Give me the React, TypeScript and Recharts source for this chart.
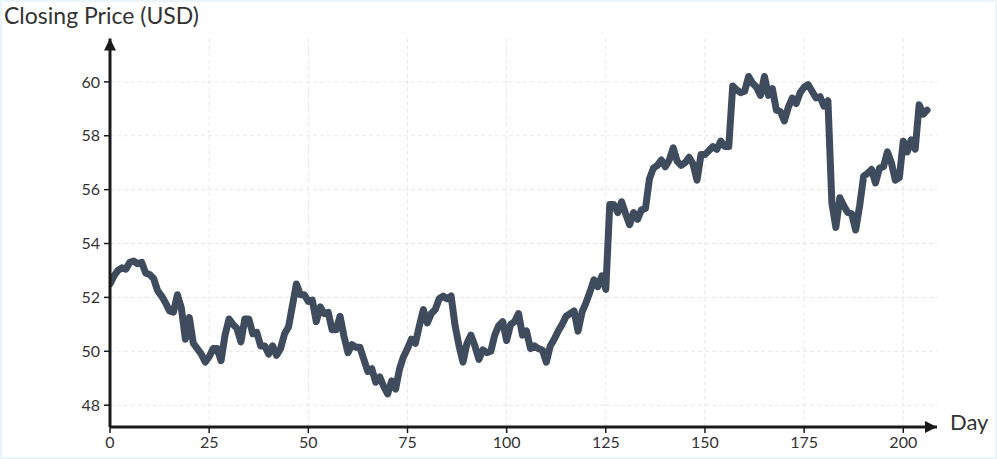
import React from 'react';
import { LineChart, Line, XAxis, YAxis, CartesianGrid } from 'recharts';

// closing prices, one per day starting at day 0
const prices = [
  52.5, 52.8, 53.0, 53.1, 53.05, 53.3, 53.35, 53.25, 53.3, 52.9,
  52.85, 52.7, 52.25, 52.05, 51.8, 51.5, 51.45, 52.1, 51.6, 50.45,
  51.25, 50.3, 50.1, 49.9, 49.6, 49.8, 50.1, 50.1, 49.65, 50.6,
  51.2, 51.0, 50.85, 50.35, 51.2, 51.2, 50.65, 50.7, 50.2, 50.2,
  49.9, 50.2, 49.85, 50.1, 50.65, 50.9, 51.7, 52.5, 52.1, 52.1,
  51.85, 51.9, 51.1, 51.65, 51.4, 51.45, 50.8, 50.8, 51.3, 50.55,
  49.95, 50.25, 50.15, 50.15, 49.7, 49.25, 49.35, 48.85, 49.05, 48.7,
  48.42, 48.9, 48.6, 49.35, 49.8, 50.1, 50.45, 50.3, 50.95, 51.55,
  51.05, 51.4, 51.55, 51.95, 52.05, 51.95, 52.05, 50.95, 50.2, 49.6,
  50.3, 50.6, 50.2, 49.7, 50.05, 49.95, 50.0, 50.6, 50.95, 51.1,
  50.4, 51.0, 51.1, 51.4, 50.6, 50.75, 50.1, 50.2, 50.1, 50.05,
  49.6, 50.2, 50.45, 50.75, 51.0, 51.3, 51.4, 51.5, 50.75, 51.45,
  51.8, 52.2, 52.65, 52.4, 52.8, 52.3, 55.45, 55.45, 55.15, 55.55,
  55.1, 54.7, 55.15, 54.9, 55.25, 55.3, 56.4, 56.8, 56.9, 57.1,
  56.85, 57.1, 57.55, 57.05, 56.9, 57.0, 57.2, 56.95, 56.35, 57.3,
  57.3, 57.45, 57.6, 57.5, 57.8, 57.6, 57.6, 59.85, 59.7, 59.6,
  59.65, 60.2, 59.95, 59.8, 59.5, 60.2, 59.5, 59.75, 58.95, 58.9,
  58.55, 59.05, 59.4, 59.2, 59.6, 59.8, 59.9, 59.65, 59.4, 59.45,
  59.1, 59.3, 55.5, 54.6, 55.7, 55.4, 55.15, 55.1, 54.5, 55.4,
  56.5, 56.6, 56.75, 56.25, 56.8, 56.85, 57.4, 57.0, 56.35, 56.45,
  57.8, 57.4, 57.85, 57.5, 59.15, 58.8, 58.95,
];

const xTicks = [0, 25, 50, 75, 100, 125, 150, 175, 200];
const yTicks = [48, 50, 52, 54, 56, 58, 60];

const data = prices.map((price, day) => ({ day, price }));

const AXIS_COLOR = '#1a1a1a';
const TEXT_COLOR = '#333333';

const App: React.FC = () => {
  return (
    <div
      style={{
        position: 'absolute',
        top: 0,
        left: 0,
        width: 997,
        height: 459,
        background: '#ffffff',
        fontFamily: 'Lato, "Noto Sans", sans-serif',
      }}
    >
      <LineChart
        width={997}
        height={459}
        data={data}
        margin={{ top: 38.5, right: 60, bottom: 0, left: 0 }}
      >
        <defs>
          <marker
            id="axisArrow"
            viewBox="0 0 12 12"
            refX={12}
            refY={6}
            markerWidth={12}
            markerHeight={12}
            markerUnits="userSpaceOnUse"
            orient="auto-start-reverse"
          >
            <path d="M0,0 L12,6 L0,12 z" fill={AXIS_COLOR} />
          </marker>
        </defs>
        <CartesianGrid strokeDasharray="4 3" stroke="#e6e6e6" syncWithTicks />
        <XAxis
          dataKey="day"
          type="number"
          domain={[0, 208.5]}
          ticks={xTicks}
          height={32}
          tickSize={6}
          tickMargin={4}
          axisLine={{ stroke: AXIS_COLOR, strokeWidth: 3, markerEnd: 'url(#axisArrow)' }}
          tickLine={{ stroke: AXIS_COLOR, strokeWidth: 1.5 }}
          tick={{ fill: TEXT_COLOR, fontSize: 16 }}
          allowDataOverflow
        />
        <YAxis
          type="number"
          domain={[47.19, 61.61]}
          ticks={yTicks}
          width={110}
          tickSize={6}
          tickMargin={4}
          axisLine={{ stroke: AXIS_COLOR, strokeWidth: 3, markerStart: 'url(#axisArrow)' }}
          tickLine={{ stroke: AXIS_COLOR, strokeWidth: 1.5 }}
          tick={{ fill: TEXT_COLOR, fontSize: 16 }}
          allowDataOverflow
        />
        <Line
          type="linear"
          dataKey="price"
          stroke="#3e4c5e"
          strokeWidth={7}
          strokeLinejoin="round"
          strokeLinecap="round"
          dot={false}
          activeDot={false}
          isAnimationActive={false}
        />
      </LineChart>

      {/* axis titles */}
      <div
        style={{
          position: 'absolute',
          left: 4,
          top: 2,
          fontSize: 23,
          lineHeight: '26px',
          color: TEXT_COLOR,
          whiteSpace: 'nowrap',
        }}
      >
        Closing Price (USD)
      </div>
      <div
        style={{
          position: 'absolute',
          left: 950,
          top: 410,
          fontSize: 22,
          lineHeight: '24px',
          color: TEXT_COLOR,
        }}
      >
        Day
      </div>

      {/* thin frame around the figure */}
      <div
        style={{
          position: 'absolute',
          inset: 0,
          border: '2px solid #e9f5f9',
          pointerEvents: 'none',
        }}
      />
    </div>
  );
};

export default App;
